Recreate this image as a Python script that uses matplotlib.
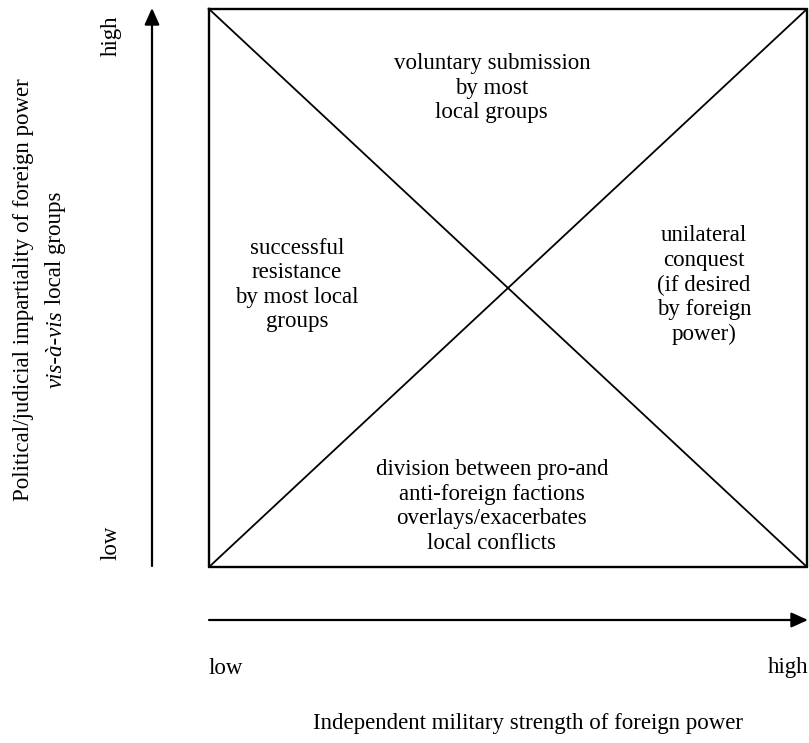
import matplotlib
matplotlib.use("Agg")
import matplotlib.pyplot as plt

W, H = 809, 743

# ---- content ----
quadrant_labels = [
    "voluntary submission\nby most\nlocal groups",
    "successful\nresistance\nby most local\ngroups",
    "unilateral\nconquest\n(if desired\nby foreign\npower)",
    "division between pro-and\nanti-foreign factions\noverlays/exacerbates\nlocal conflicts",
]
# label centres in box-fraction coordinates (x from left, y from bottom)
quadrant_pos = [(0.473, 0.858), (0.147, 0.505), (0.828, 0.505), (0.473, 0.108)]
x_ticklabels = ["low", "high"]
y_ticklabels = ["low", "high"]
x_title = "Independent military strength of foreign power"
y_title_1 = "Political/judicial impartiality of foreign power"
y_title_2_it = "vis-à-vis"
y_title_2_rest = " local groups"

plt.rcParams['font.family'] = ['Liberation Serif', 'DejaVu Serif']
FS = 16.5

fig = plt.figure(figsize=(W / 100, H / 100), dpi=100)
ax = fig.add_axes([0, 0, 1, 1])
ax.set_xlim(0, W)
ax.set_ylim(H, 0)
ax.axis("off")

# box in pixel coords
bx0, bx1, by0, by1 = 209, 807, 9, 567


def bpos(fx, fy):
    return bx0 + fx * (bx1 - bx0), by1 - fy * (by1 - by0)


ax.plot([bx0, bx1, bx1, bx0, bx0], [by0, by0, by1, by1, by0], color="black", lw=1.7)
ax.plot([bx0, bx1], [by0, by1], color="black", lw=1.3)
ax.plot([bx0, bx1], [by1, by0], color="black", lw=1.3)

for lab, (fx, fy) in zip(quadrant_labels, quadrant_pos):
    x, y = bpos(fx, fy)
    ax.text(x, y, lab, ha="center", va="center", fontsize=FS, linespacing=1.22,
            multialignment="center")

# vertical arrow
ax.annotate("", xy=(152, 8), xytext=(152, 566),
            arrowprops=dict(arrowstyle="-|>,head_length=1.0,head_width=0.45",
                            color="black", lw=1.6, shrinkA=0, shrinkB=0))
# horizontal arrow
ax.annotate("", xy=(808, 620), xytext=(209, 620),
            arrowprops=dict(arrowstyle="-|>,head_length=1.0,head_width=0.45",
                            color="black", lw=1.6, shrinkA=0, shrinkB=0))

# axis end labels
ax.text(209, 668, x_ticklabels[0], ha="left", va="center", fontsize=FS)
ax.text(808, 668, x_ticklabels[1], ha="right", va="center", fontsize=FS)
ax.text(111, 543, y_ticklabels[0], ha="center", va="center", rotation=90, fontsize=FS)
ax.text(111, 36, y_ticklabels[1], ha="center", va="center", rotation=90, fontsize=FS)

# titles
ax.text(528, 724, x_title, ha="center", va="center", fontsize=FS)
ax.text(24, 290, y_title_1, ha="center", va="center", rotation=90, fontsize=FS)

# second y-title line: italic part + regular part
t_it = ax.text(0, 0, y_title_2_it, fontsize=FS, style="italic", rotation=90,
               ha="center", va="bottom")
t_rg = ax.text(0, 0, y_title_2_rest, fontsize=FS, rotation=90,
               ha="center", va="bottom")
fig.canvas.draw()
r = fig.canvas.get_renderer()
h_it = t_it.get_window_extent(r).height
h_rg = t_rg.get_window_extent(r).height
total = h_it + h_rg
cy = 290
y_start = cy + total / 2
t_it.set_position((56, y_start))
t_rg.set_position((56, y_start - h_it))

fig.savefig("out.png", dpi=100, facecolor="white")
